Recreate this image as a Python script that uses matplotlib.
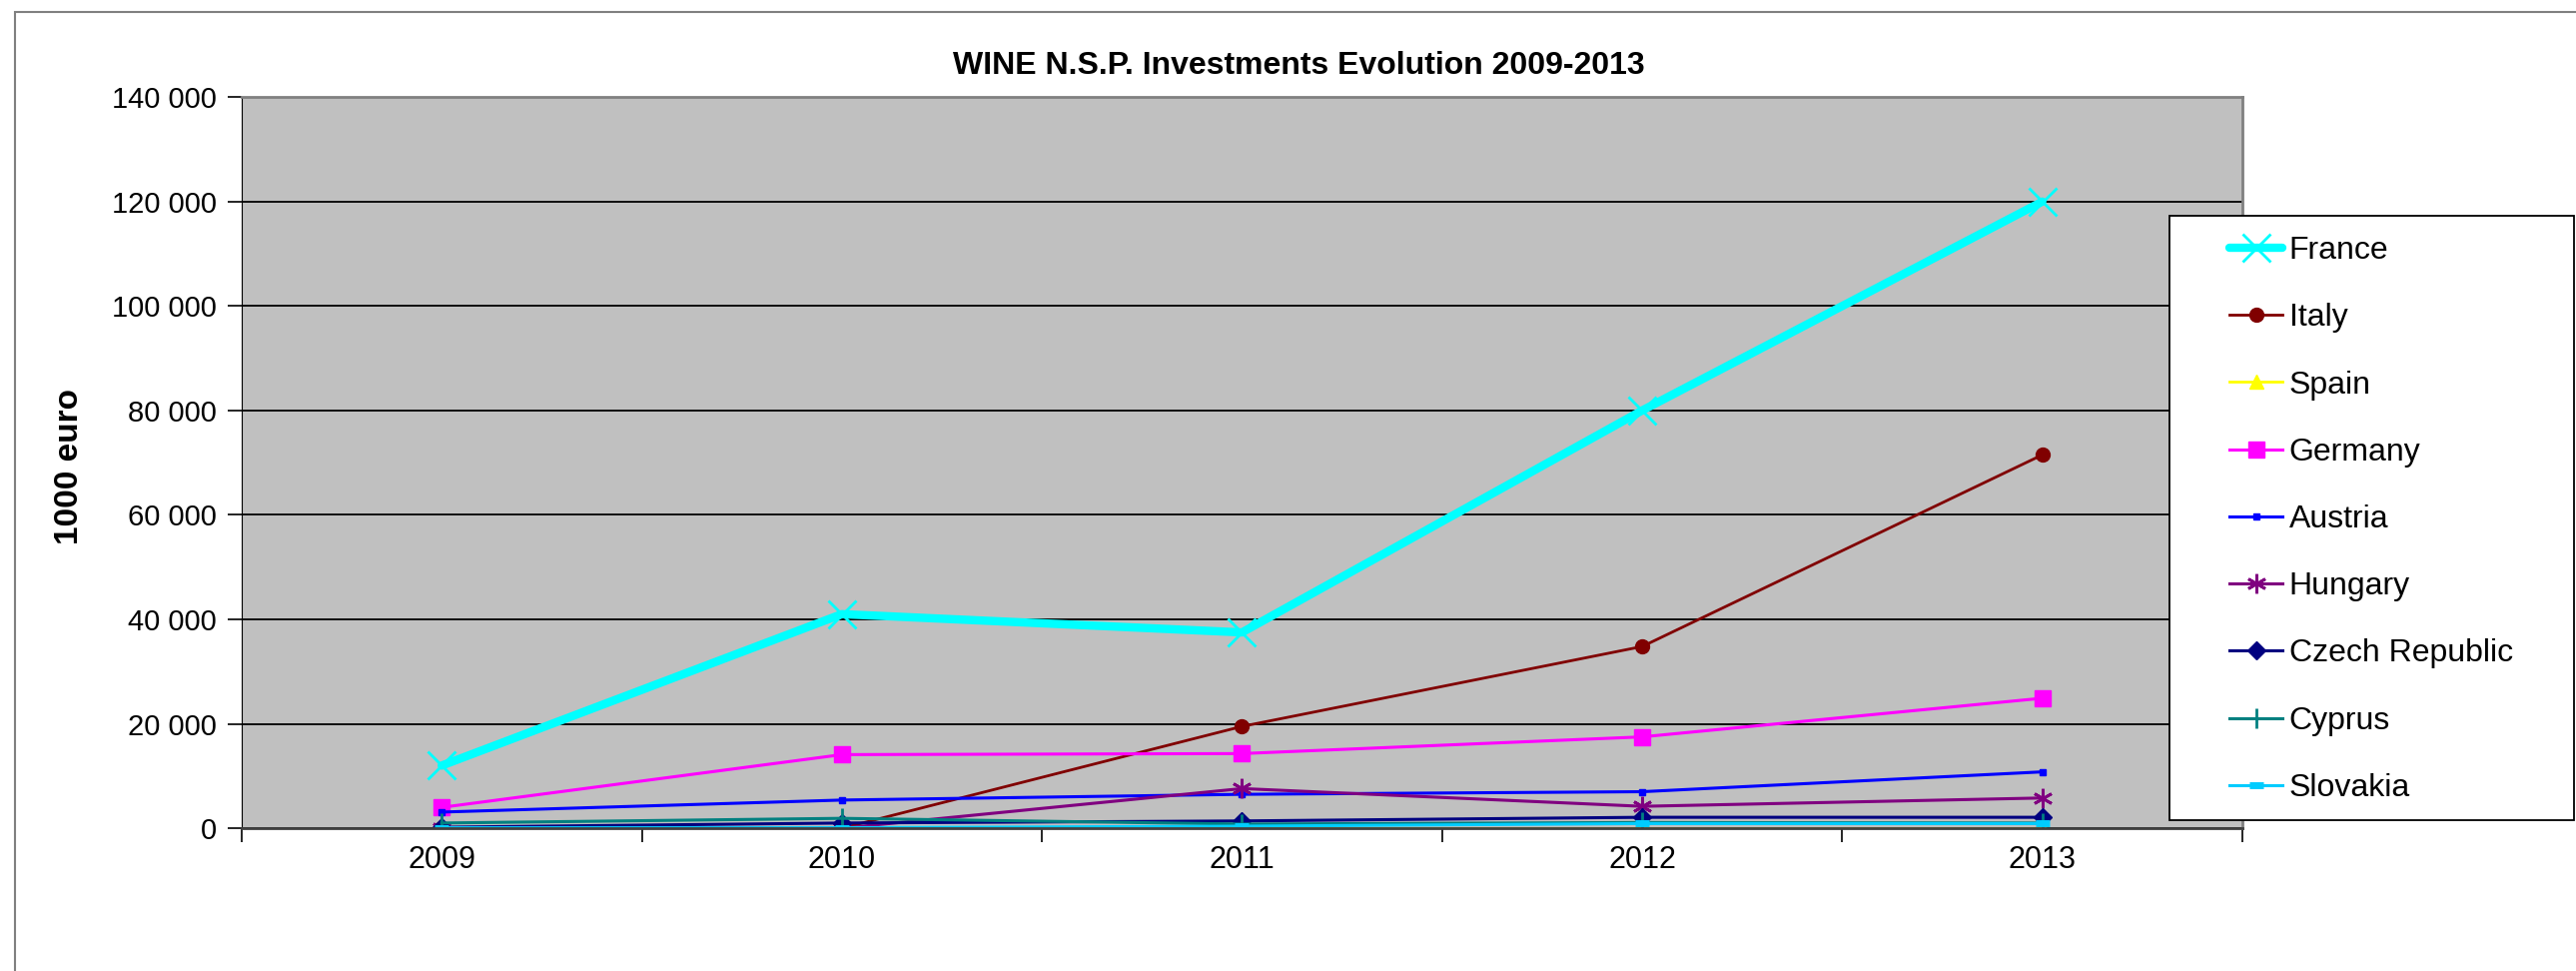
import numpy as np
import matplotlib
matplotlib.use("Agg")
import matplotlib.pyplot as plt
from matplotlib.patches import Rectangle
from matplotlib.ticker import FuncFormatter, FixedLocator

plt.rcParams['font.family'] = ['Liberation Sans', 'DejaVu Sans']

years = ['2009', '2010', '2011', '2012', '2013']

france = [12000, 41000, 37500, 80000, 120000]
italy = [0, 0, 19500, 34800, 71500]
spain = [0, 0, 0, 0, 0]
germany = [4000, 14100, 14300, 17500, 24900]
austria = [3100, 5400, 6500, 7000, 10800]
hungary = [0, 0, 7600, 4200, 5800]
czech = [200, 1000, 1400, 2100, 2100]
cyprus = [1000, 1900, 800, 1100, 1000]
slovakia = [100, 100, 400, 900, 900]

y_ticks = [0, 20000, 40000, 60000, 80000, 100000, 120000, 140000]

series = [
    ('France', france, dict(color='#00FFFF', lw=6, marker='x', ms=20, mew=2, solid_capstyle='round')),
    ('Italy', italy, dict(color='#800000', lw=2, marker='o', ms=10)),
    ('Spain', spain, dict(color='#FFFF00', lw=2, marker='^', ms=10)),
    ('Germany', germany, dict(color='#FF00FF', lw=2.2, marker='s', ms=11)),
    ('Austria', austria, dict(color='#0000FF', lw=2.2, marker='s', ms=5)),
    ('Hungary', hungary, dict(color='#800080', lw=2.2, marker=(6, 2, 0), ms=14, mew=2)),
    ('Czech Republic', czech, dict(color='#000080', lw=2.2, marker='D', ms=9)),
    ('Cyprus', cyprus, dict(color='#008080', lw=2.2, marker='|', ms=14, mew=2)),
    ('Slovakia', slovakia, dict(color='#00CCFF', lw=2.2, marker='_', ms=10, mew=5)),
]

fig = plt.figure(figsize=(25.79, 9.72), dpi=100)
fig.patches.append(Rectangle((0.006, -0.1), 1.1, 1.088, transform=fig.transFigure,
                             fill=False, edgecolor='#808080', lw=1.5, zorder=0))

ax = fig.add_axes([0.0938, 0.147, 0.7767, 0.753])
ax.set_facecolor('#C0C0C0')

x = np.arange(len(years))
handles = []
for name, vals, style in series:
    h, = ax.plot(x, vals, label=name, **style)
    handles.append(h)

ax.set_xlim(-0.5, len(years) - 0.5)
ax.set_ylim(0, 140000)
ax.set_yticks(y_ticks)
ax.yaxis.set_major_formatter(FuncFormatter(lambda v, p: f"{int(v):,}".replace(',', ' ')))
ax.yaxis.grid(True, color='black', lw=1.3)
ax.set_axisbelow(True)

ax.xaxis.set_major_locator(FixedLocator(np.arange(-0.5, len(years), 1.0)))
ax.xaxis.set_minor_locator(FixedLocator(x))
ax.set_xticklabels([], minor=False)
ax.set_xticklabels(years, minor=True)
ax.tick_params(axis='x', which='major', length=10, width=1.2, direction='out')
ax.tick_params(axis='x', which='minor', length=0, pad=12, labelsize=22)
ax.tick_params(axis='y', length=10, width=1.2, direction='out', labelsize=21, pad=8)

for s in ['top', 'right']:
    ax.spines[s].set_color('#808080')
    ax.spines[s].set_linewidth(2)
ax.spines['left'].set_color('black')
ax.spines['bottom'].set_color('#404040')
ax.spines['bottom'].set_linewidth(2)

fig.text(0.504, 0.932, 'WINE N.S.P. Investments Evolution 2009-2013', ha='center', va='center',
         fontsize=23, fontweight='bold')
fig.text(0.027, 0.52, '1000 euro', rotation=90, ha='center', va='center',
         fontsize=24, fontweight='bold')

# legend box drawn by hand, entries without frame
fig.patches.append(Rectangle((0.8422, 0.1553), 0.157, 0.6225, transform=fig.transFigure,
                             facecolor='white', edgecolor='black', lw=1.3, zorder=4))
leg = fig.legend(handles=handles, loc='upper left', bbox_to_anchor=(0.8655, 0.757),
                 fontsize=23, frameon=False, handlelength=1.66, handletextpad=0.2,
                 labelspacing=1.165, borderpad=0, borderaxespad=0)
leg.set_zorder(5)

fig.savefig('out.png', dpi=100, facecolor='white')
